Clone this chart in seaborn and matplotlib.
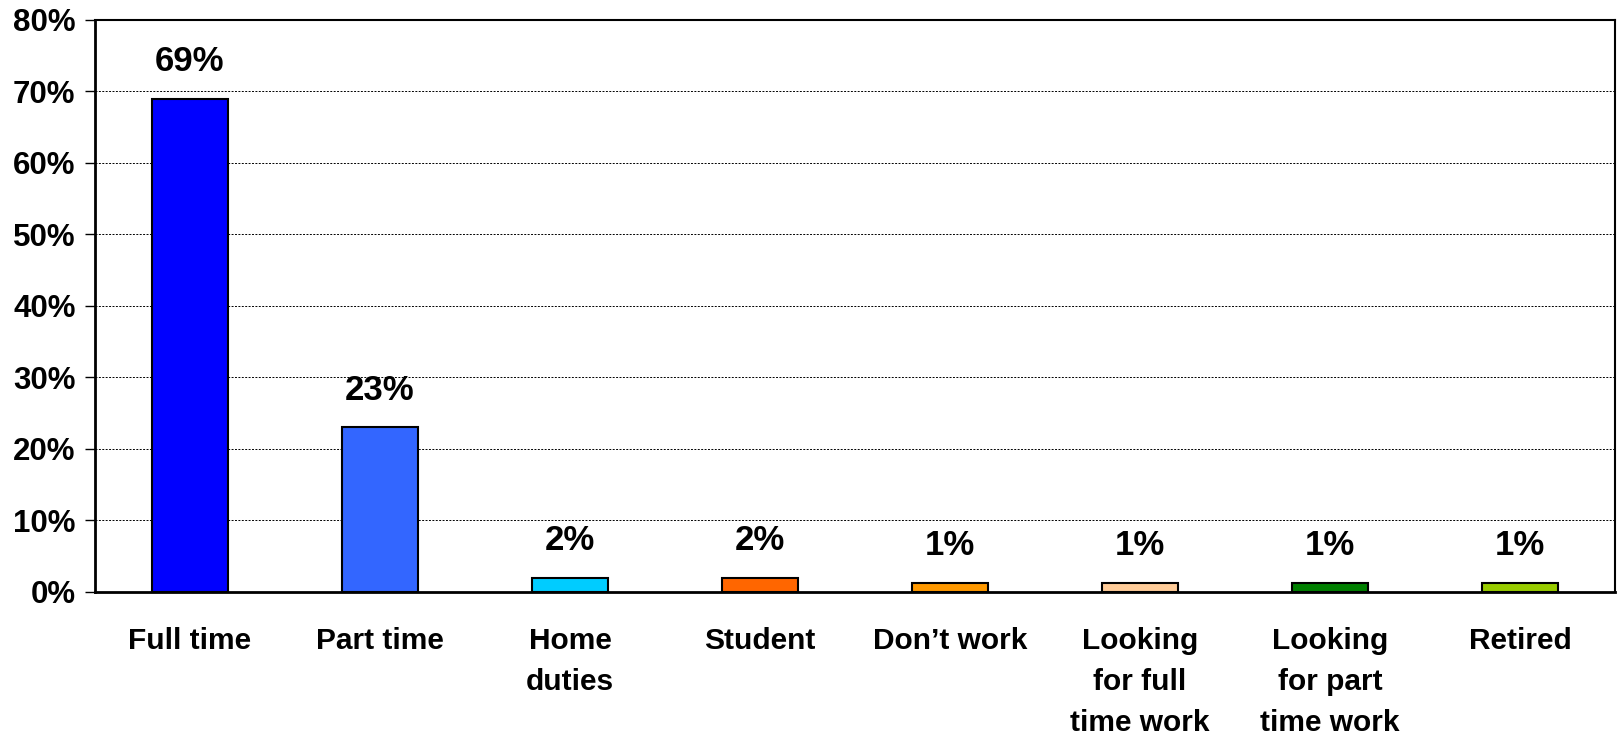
import numpy as np
import pandas as pd
import matplotlib
matplotlib.use("Agg")
import matplotlib.pyplot as plt
import matplotlib.ticker as mtick
import seaborn as sns

# data
categories = ["Full time", "Part time", "Home\nduties", "Student", "Don\u2019t work",
              "Looking\nfor full\ntime work", "Looking\nfor part\ntime work", "Retired"]
values = [69, 23, 2, 2, 1.3, 1.3, 1.3, 1.3]
bar_colors = ["#0000FF", "#3366FF", "#00CCFF", "#FF6600", "#FF9900",
              "#FFCC99", "#008000", "#99CC00"]
y_ticks = [0, 10, 20, 30, 40, 50, 60, 70, 80]

df = pd.DataFrame({"Category": categories, "Value": values})

sns.set_style("white")
plt.rcParams["font.family"] = ["Liberation Sans", "DejaVu Sans"]
plt.rcParams["font.weight"] = "bold"
plt.rcParams["text.color"] = "black"
plt.rcParams["xtick.labelcolor"] = "black"
plt.rcParams["ytick.labelcolor"] = "black"

fig = plt.figure(figsize=(16.21, 7.38), dpi=100)
ax = fig.add_axes([0.0586, 0.198, 0.9377, 0.775])

sns.barplot(data=df, x="Category", y="Value", hue="Category", palette=bar_colors,
            saturation=1, legend=False, width=0.4, edgecolor="black", linewidth=1.5,
            ax=ax, zorder=3)

# value labels
for i, v in enumerate(values):
    ax.annotate(f"{v:.0f}%", (i, v), xytext=(0, 15), textcoords="offset points",
                ha="center", va="bottom", fontsize=25, fontweight="bold", color="black")

# axes
ax.set_ylim(0, 80)
ax.set_xlim(-0.5, len(categories) - 0.5)
ax.set_yticks(y_ticks)
ax.yaxis.set_major_formatter(mtick.FuncFormatter(lambda y, _: f"{y:.0f}%"))
ax.yaxis.grid(True, linestyle=(0, (2, 1.5)), color="black", linewidth=0.7)
ax.set_axisbelow(True)

ax.set_xticks(range(len(categories)))
ax.set_xticklabels(categories, linespacing=1.6)
ax.xaxis.set_minor_locator(mtick.FixedLocator(np.arange(-0.5, len(categories), 1)))
ax.tick_params(axis="x", which="major", length=0, pad=25, labelsize=21.5)
ax.tick_params(axis="x", which="minor", length=7, width=1, color="#555555", direction="out")
ax.tick_params(axis="y", length=7, width=1, direction="out", pad=7, labelsize=22.5,
               left=True, color="black")
for lab in ax.get_xticklabels() + ax.get_yticklabels():
    lab.set_fontweight("bold")

for s in ax.spines.values():
    s.set_color("black")
    s.set_linewidth(1.5)
ax.spines["bottom"].set_linewidth(2)
ax.spines["left"].set_linewidth(2)

ax.set_xlabel("")
ax.set_ylabel("")

plt.savefig("out.png", dpi=100)
